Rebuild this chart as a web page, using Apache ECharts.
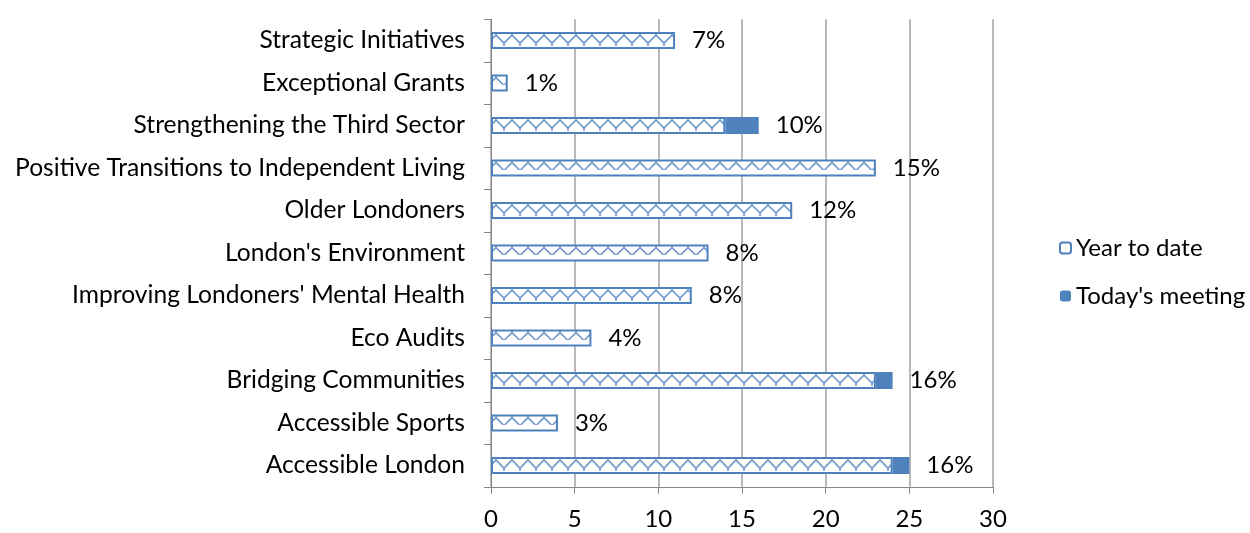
<!DOCTYPE html>
<html>
<head>
<meta charset="utf-8">
<script src="https://cdn.jsdelivr.net/npm/echarts@6/dist/echarts.min.js"></script>
<style>
  html, body { margin: 0; padding: 0; background: #fff; }
  #chart { width: 1250px; height: 533px; }
</style>
</head>
<body>
<div id="chart"></div>
<script>
// top to bottom, as in the picture
const categories = ['Strategic Initiatives', 'Exceptional Grants', 'Strengthening the Third Sector',
  'Positive Transitions to Independent Living', 'Older Londoners', "London's Environment",
  "Improving Londoners' Mental Health", 'Eco Audits', 'Bridging Communities',
  'Accessible Sports', 'Accessible London'];
const yearToDate = [11, 1, 14, 23, 18, 13, 12, 6, 23, 4, 24];
const todaysMeeting = [0, 0, 2, 0, 0, 0, 0, 0, 1, 0, 1];
const shareLabels = ['7%', '1%', '10%', '15%', '12%', '8%', '8%', '4%', '16%', '3%', '16%'];
const xTicks = [0, 5, 10, 15, 20, 25, 30];

const blue = '#4F81BD';
const font = 'Lato, "Open Sans", sans-serif';
const fs = 24;

// grid: 11 bands of 42.5px, bars 17px high -> bars start at top + 12.75 + 42.5*i
const gridTop = 19.25;
const band = 42.5;
const barH = 17;

// zigzag hatch like the Excel pattern fill; period of two bands so every bar gets the same phase
function zigzag() {
  const w = 16, h = band * 2;
  const c = document.createElement('canvas');
  c.width = w; c.height = h;
  const ctx = c.getContext('2d');
  ctx.fillStyle = '#fff';
  ctx.fillRect(0, 0, w, h);
  ctx.strokeStyle = '#6F98CC';
  ctx.lineWidth = 1.6;
  ctx.beginPath();
  [0, 1].forEach(k => {
    const y0 = (gridTop + (band - barH) / 2 + band * k) % h;
    ctx.moveTo(0, y0 + 3);
    ctx.lineTo(w / 2, y0 + 11);
    ctx.lineTo(w, y0 + 3);
    ctx.moveTo(w / 2, y0 + 11);
    ctx.lineTo(w / 2, y0 + 14);
    ctx.moveTo(0, y0 + 3);
    ctx.lineTo(0, y0 + 1);
    ctx.moveTo(w, y0 + 3);
    ctx.lineTo(w, y0 + 1);
  });
  ctx.stroke();
  return c;
}

const chart = echarts.init(document.getElementById('chart'));
chart.setOption({
  animation: false,
  textStyle: { fontFamily: font },
  grid: { left: 491, right: 257, top: gridTop, height: band * categories.length },
  legend: {
    orient: 'vertical',
    left: 1054,
    top: 231,
    itemWidth: 11,
    itemHeight: 11,
    itemGap: 24,
    textStyle: { fontSize: fs, color: '#000', fontFamily: font },
    data: ['Year to date', "Today's meeting"]
  },
  xAxis: {
    type: 'value',
    min: xTicks[0],
    max: xTicks[xTicks.length - 1],
    interval: 5,
    axisLine: { show: true, lineStyle: { color: '#868686', width: 1 } },
    axisTick: { show: true, length: 7, lineStyle: { color: '#868686' } },
    axisLabel: { fontSize: fs, color: '#000', margin: 21 },
    splitLine: { show: true, lineStyle: { color: '#A0A0A0', width: 1.5 } }
  },
  yAxis: {
    type: 'category',
    inverse: true,
    data: categories,
    axisLine: { show: true, lineStyle: { color: '#868686', width: 1 } },
    axisTick: { show: true, length: 7, lineStyle: { color: '#868686' } },
    axisLabel: { fontSize: 24.6, color: '#000', margin: 26 }
  },
  series: [
    {
      name: 'Year to date',
      type: 'bar',
      stack: 'total',
      barWidth: barH,
      data: yearToDate,
      itemStyle: {
        color: { image: zigzag(), repeat: 'repeat' },
        borderColor: blue,
        borderWidth: 2
      }
    },
    {
      name: "Today's meeting",
      type: 'bar',
      stack: 'total',
      barWidth: barH,
      data: todaysMeeting,
      itemStyle: { color: blue },
      label: {
        show: true,
        position: 'right',
        distance: 17,
        fontSize: fs,
        color: '#000',
        fontFamily: font,
        formatter: p => shareLabels[p.dataIndex]
      }
    }
  ]
});
</script>
</body>
</html>
